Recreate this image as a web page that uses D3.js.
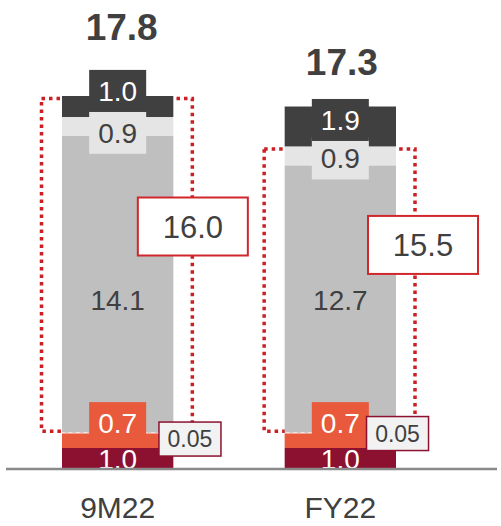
<!DOCTYPE html>
<html>
<head>
<meta charset="utf-8">
<script src="https://cdn.jsdelivr.net/npm/d3@7"></script>
<style>
  html, body { margin: 0; padding: 0; background: #fff; }
  svg { display: block; font-family: "Liberation Sans", Arial, sans-serif; }
</style>
</head>
<body>
<script>
// ---- data ----
const categories = ["9M22", "FY22"];
const seriesKeys = ["d1", "d2", "d3", "d4", "d5", "d6"];   // bottom to top
const d1Values = [1.0, 1.0];
const d2Values = [0.7, 0.7];
const d3Values = [0.05, 0.05];
const d4Values = [14.1, 12.7];
const d5Values = [0.9, 0.9];
const d6Values = [1.0, 1.9];
const totalLabels = ["17.8", "17.3"];
const calloutLabels = ["16.0", "15.5"];
const calloutTopKey = ["d6", "d5"];    // highest segment inside the dotted frame

// ---- styling / layout ----
const W = 501, H = 526;
const fills = { d1: "#8c1130", d2: "#e9593b", d3: "#f2f2f2", d4: "#bfbfbf", d5: "#e5e5e5", d6: "#404040" };
const textFill = { d1: "#ffffff", d2: "#ffffff", d3: "#404040", d4: "#404040", d5: "#404040", d6: "#ffffff" };
const boxedKeys = ["d2", "d5", "d6"];
const labelShift = [
  { d1: 0, d2: -17.5, d3: 6.3, d4: 16, d5: 6.3, d6: -15.6 },
  { d1: 0, d2: -17.5, d3: 0.8, d4: 1.2, d5: 2.5, d6: -6.5 }
];
const smallBoxDx = [72.3, 57.2];
const calloutDx = [0.5, 8];
const calloutDy = [128, 96];
const totalOffset = [56, 31.5];
const totalDx = [4, 1.5];

const rows = categories.map((c, i) => ({
  cat: c,
  d1: d1Values[i], d2: d2Values[i], d3: d3Values[i],
  d4: d4Values[i], d5: d5Values[i], d6: d6Values[i]
}));
const stacked = d3.stack().keys(seriesKeys)(rows);
const byKey = {};
stacked.forEach(s => { byKey[s.key] = s; });

const svg = d3.select("body").append("svg").attr("width", W).attr("height", H);

const x = d3.scaleBand().domain(categories).range([62, 396]).paddingInner(0.5).paddingOuter(0);
const yMax = d3.max(stacked[stacked.length - 1], d => d[1]);
const y = d3.scaleLinear().domain([0, yMax]).range([469, 96]);

// dotted frames (behind the bars)
const frames = svg.append("g");
categories.forEach((c, i) => {
  const lo = byKey["d3"][i][1];
  const hi = byKey[calloutTopKey[i]][i][1];
  const x0 = x(c) - 20.5, x1 = x(c) + x.bandwidth() + 19;
  frames.append("rect")
    .attr("x", x0).attr("y", y(hi) + 2.5)
    .attr("width", x1 - x0).attr("height", y(lo) - y(hi) - 3.5)
    .attr("fill", "none").attr("stroke", "#cc1f24")
    .attr("stroke-width", 3.5).attr("stroke-dasharray", "3.5,4");
});

// stacked segments
const segG = svg.append("g");
stacked.forEach(s => {
  segG.selectAll(null).data(s).join("rect")
    .attr("x", d => x(d.data.cat))
    .attr("y", d => y(d[1]))
    .attr("width", x.bandwidth())
    .attr("height", d => y(d[0]) - y(d[1]))
    .attr("fill", fills[s.key]);
});

// segment labels
const labG = svg.append("g");
const fmt = v => (v < 0.1 ? d3.format(".2f")(v) : d3.format(".1f")(v));
const boxW = 57, boxH = 42;
seriesKeys.filter(k => k !== "d3").forEach(k => {
  byKey[k].forEach((d, i) => {
    const cx = x(d.data.cat) + x.bandwidth() / 2;
    const cy = (y(d[0]) + y(d[1])) / 2 + labelShift[i][k];
    if (boxedKeys.includes(k)) {
      labG.append("rect")
        .attr("x", cx - boxW / 2).attr("y", cy - boxH / 2)
        .attr("width", boxW).attr("height", boxH)
        .attr("fill", fills[k]);
    }
    labG.append("text")
      .attr("x", cx).attr("y", cy).attr("dy", "0.36em")
      .attr("text-anchor", "middle")
      .attr("font-size", 28)
      .attr("fill", textFill[k])
      .text(fmt(d.data[k]));
  });
});

// baseline
svg.append("line")
  .attr("x1", 6).attr("x2", 497)
  .attr("y1", y(0)).attr("y2", y(0))
  .attr("stroke", "#898989").attr("stroke-width", 2.5);

// small-value tags
byKey["d3"].forEach((d, i) => {
  const cx = x(d.data.cat) + x.bandwidth() / 2 + smallBoxDx[i];
  const cy = (y(d[0]) + y(d[1])) / 2 + labelShift[i]["d3"];
  labG.append("rect")
    .attr("x", cx - 31).attr("y", cy - 17)
    .attr("width", 62).attr("height", 34)
    .attr("fill", "#f2f2f2").attr("stroke", "#8c1130").attr("stroke-width", 1.5);
  labG.append("text")
    .attr("x", cx).attr("y", cy).attr("dy", "0.36em")
    .attr("text-anchor", "middle").attr("font-size", 23)
    .attr("fill", "#404040").text(fmt(d.data.d3));
});

// callout boxes
categories.forEach((c, i) => {
  const hi = byKey[calloutTopKey[i]][i][1];
  const cx = x(c) + x.bandwidth() + 19 + calloutDx[i];
  const cy = y(hi) + 2.5 + calloutDy[i];
  svg.append("rect")
    .attr("x", cx - 55).attr("y", cy - 29)
    .attr("width", 110).attr("height", 58)
    .attr("fill", "#ffffff").attr("stroke", "#d0262c").attr("stroke-width", 2);
  svg.append("text")
    .attr("x", cx).attr("y", cy).attr("dy", "0.36em")
    .attr("text-anchor", "middle").attr("font-size", 31)
    .attr("fill", "#404040").text(calloutLabels[i]);
});

// totals
categories.forEach((c, i) => {
  const top = byKey["d6"][i][1];
  svg.append("text")
    .attr("x", x(c) + x.bandwidth() / 2 + totalDx[i])
    .attr("y", y(top) - totalOffset[i])
    .attr("text-anchor", "middle")
    .attr("font-size", 37).attr("font-weight", "bold")
    .attr("fill", "#404040").text(totalLabels[i]);
});

// category axis
const axis = svg.append("g")
  .attr("transform", `translate(0,${y(0) + 49})`)
  .call(d3.axisBottom(x).tickSize(0).tickPadding(0));
axis.select(".domain").remove();
axis.selectAll("text")
  .attr("dy", 0).attr("y", 0)
  .attr("font-size", 30)
  .attr("font-family", "'Liberation Sans', Arial, sans-serif")
  .attr("fill", "#404040");
</script>
</body>
</html>
